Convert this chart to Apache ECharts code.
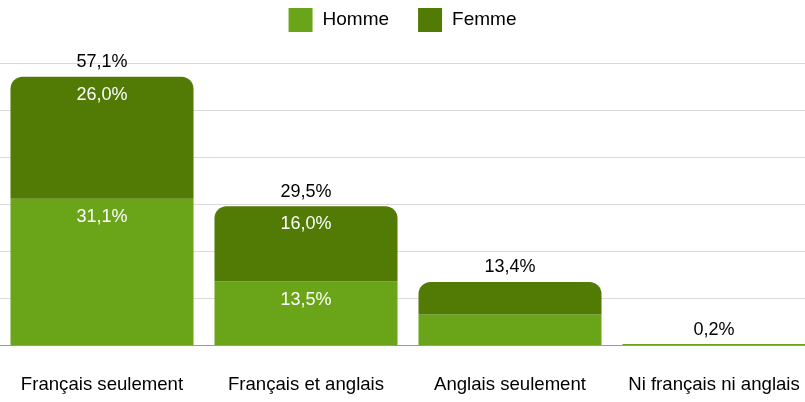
<!DOCTYPE html>
<html>
<head>
<meta charset="utf-8">
<script src="https://cdn.jsdelivr.net/npm/echarts@6/dist/echarts.min.js"></script>
<style>html,body{margin:0;padding:0;background:#fff}#c{width:805px;height:402px}</style>
</head>
<body>
<div id="c"></div>
<script>
const categories = ['Français seulement', 'Français et anglais', 'Anglais seulement', 'Ni français ni anglais'];
const homme = [31.1, 13.5, 6.5, 0.2];
const femme = [26.0, 16.0, 6.9, 0.0];
const totals = [57.1, 29.5, 13.4, 0.2];
const yTicks = [0, 10, 20, 30, 40, 50, 60];

const fmt = v => v.toFixed(1).replace('.', ',') + '%';
const FONT = '"Liberation Sans", Arial, sans-serif';

function items(arr) {
  return arr.map(v => ({ value: v, label: { show: v >= 10 } }));
}

const chart = echarts.init(document.getElementById('c'));
chart.setOption({
  animation: false,
  textStyle: { fontFamily: FONT },
  legend: {
    data: ['Homme', 'Femme'],
    top: 3,
    left: 'center',
    itemWidth: 24,
    itemHeight: 24,
    itemGap: 29,
    icon: 'rect',
    textStyle: { fontSize: 19, color: '#000', fontFamily: FONT, padding: [0, 0, 0, 5] }
  },
  grid: { left: 0, width: 816, top: 63, bottom: 57, containLabel: false, outerBoundsMode: 'none' },
  xAxis: {
    type: 'category',
    data: categories,
    axisTick: { show: false },
    axisLine: { show: true, lineStyle: { color: '#999', width: 1 } },
    axisLabel: { fontSize: 18.6, color: '#000', margin: 30, fontFamily: FONT, interval: 0 }
  },
  yAxis: {
    type: 'value',
    min: yTicks[0],
    max: yTicks[yTicks.length - 1],
    interval: 10,
    axisLabel: { show: false },
    axisLine: { show: false },
    axisTick: { show: false },
    splitLine: { lineStyle: { color: '#d9d9d9', width: 1 } }
  },
  series: [
    {
      name: 'Homme', type: 'bar', stack: 's', barWidth: 183,
      data: items(homme),
      itemStyle: { color: '#6aa519' },
      label: { position: 'insideTop', distance: 9, color: '#fff', fontSize: 18, fontFamily: FONT, formatter: p => fmt(p.value) }
    },
    {
      name: 'Femme', type: 'bar', stack: 's', barWidth: 183,
      data: items(femme),
      itemStyle: { color: '#527b05', borderRadius: [12, 12, 0, 0] },
      label: { position: 'insideTop', distance: 9, color: '#fff', fontSize: 18, fontFamily: FONT, formatter: p => fmt(p.value) }
    },
    {
      name: 'Total', type: 'scatter',
      data: totals,
      symbolSize: 1,
      itemStyle: { color: 'rgba(0,0,0,0)' },
      silent: true,
      label: { show: true, position: 'top', distance: 5, color: '#000', opacity: 1, fontSize: 18, fontFamily: FONT, formatter: p => fmt(p.value) }
    }
  ]
});
</script>
</body>
</html>
